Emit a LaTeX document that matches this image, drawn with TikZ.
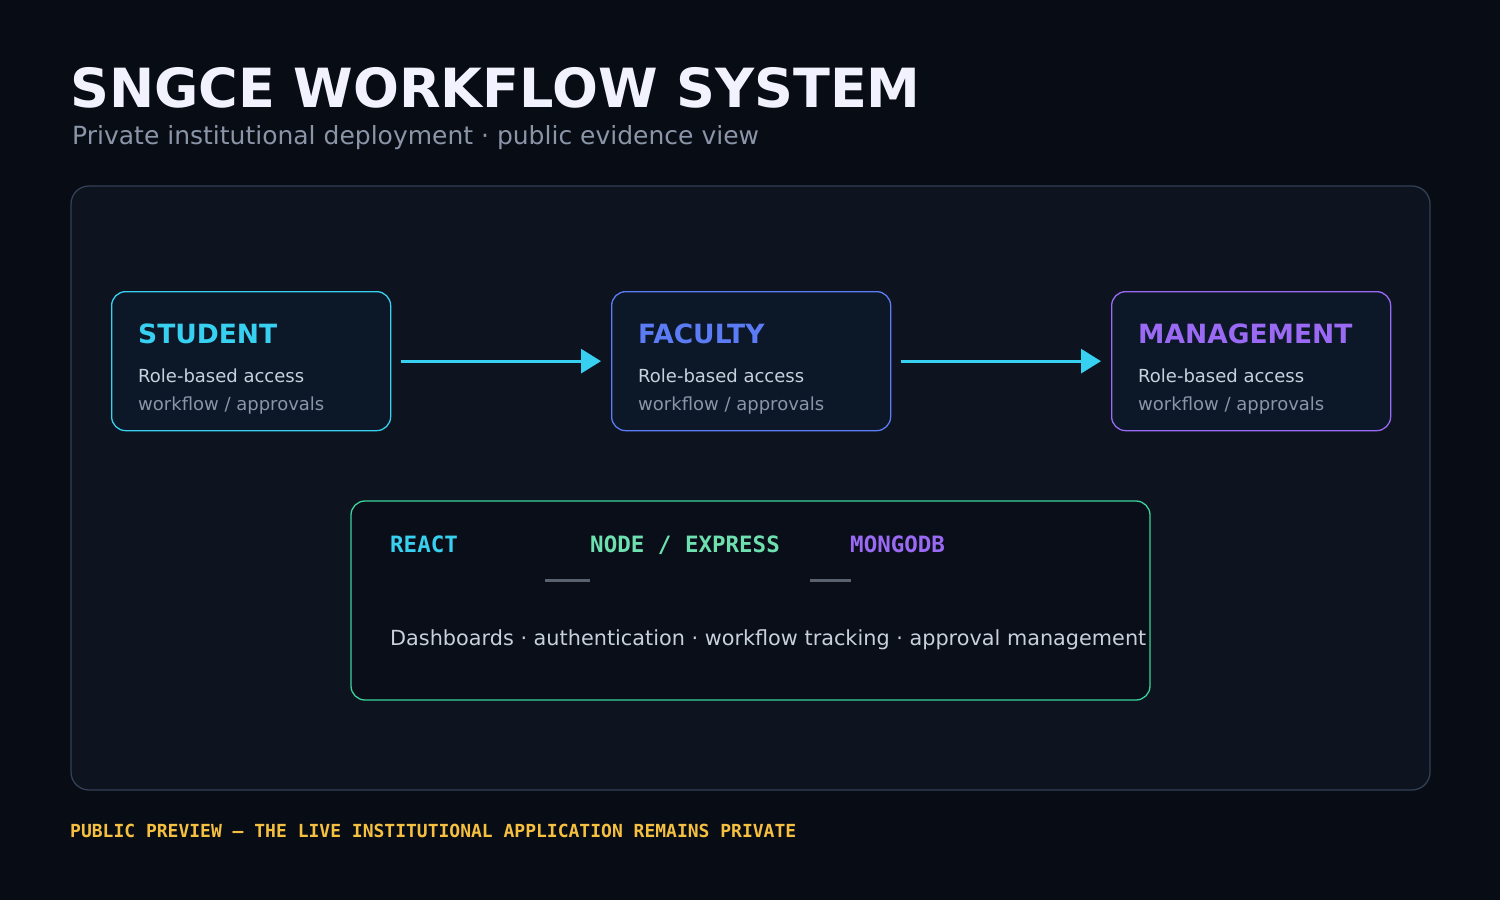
\documentclass[tikz,border=0pt]{standalone}
\usepackage{fontspec}
\setmainfont{DejaVu Sans}
\newfontfamily\monofont{DejaVu Sans Mono}
\usetikzlibrary{arrows.meta,positioning}
\definecolor{bgdark}{HTML}{080C14}
\definecolor{panelfill}{HTML}{0D1420}
\definecolor{panelline}{HTML}{334055}
\definecolor{boxfill}{HTML}{0C1828}
\definecolor{cyanc}{HTML}{38D0F0}
\definecolor{bluec}{HTML}{5B7CF5}
\definecolor{purplec}{HTML}{9A6AF5}
\definecolor{greenc}{HTML}{3AD39A}
\definecolor{mintc}{HTML}{6EE0B0}
\definecolor{greytxt}{HTML}{8B95A8}
\definecolor{lighttxt}{HTML}{C8D0DC}
\definecolor{rulegrey}{HTML}{5A6270}
\definecolor{goldc}{HTML}{F5C040}
\tikzset{
  role/.style={draw=#1, line width=1.3pt, fill=boxfill, rounded corners=14pt,
    minimum width=279pt, minimum height=139pt, anchor=north west},
  txt/.style={anchor=base west, inner sep=0pt},
  flow/.style={draw=cyanc, line width=3pt, -{Triangle[length=20pt,width=24pt]}}
}
\begin{document}
\begin{tikzpicture}[x=1pt,y=-1pt]
    \fill[bgdark] (0,0) rectangle (1500,900);
    \useasboundingbox (0,0) rectangle (1500,900);

    \node[txt, text=white!95!blue] (title) at (70,107) {\fontsize{54}{60}\selectfont\bfseries SNGCE WORKFLOW SYSTEM};
    \node[txt, text=greytxt] (sub) at (72,144) {\fontsize{25}{30}\selectfont Private institutional deployment · public evidence view};

    \draw[panelline, line width=1.3pt, fill=panelfill, rounded corners=18pt] (71,186) rectangle (1430,790);

    % role boxes
    \node[role=cyanc] (student) at (111,291) {};
    \node[role=bluec] (faculty) at (611,291) {};
    \node[role=purplec] (manage) at (1111,291) {};

    \foreach \b/\t/\c/\x in {student/STUDENT/cyanc/138, faculty/FACULTY/bluec/638, manage/MANAGEMENT/purplec/1138} {
        \node[txt, text=\c] (\b-t) at (\x,343) {\fontsize{26.5}{30}\selectfont\bfseries \t};
        \node[txt, text=lighttxt] (\b-a) at (\x,382) {\fontsize{18}{22}\selectfont Role-based access};
        \node[txt, text=greytxt] (\b-b) at (\x,410) {\fontsize{18}{22}\selectfont workflow / approvals};
    }

    \draw[flow, shorten <=10pt, shorten >=10pt] (student.east) -- (faculty.west);
    \draw[flow, shorten <=10pt, shorten >=10pt] (faculty.east) -- (manage.west);

    % stack box
    \draw[greenc, line width=1.3pt, fill=bgdark!70!panelfill, rounded corners=14pt] (351,501) rectangle (1150,700);
    \node[txt, text=cyanc] (react) at (390,552) {\monofont\fontsize{22.5}{26}\selectfont\bfseries REACT};
    \node[txt, text=mintc] (node) at (590,552) {\monofont\fontsize{22.5}{26}\selectfont\bfseries NODE / EXPRESS};
    \node[txt, text=purplec] (mongo) at (850,552) {\monofont\fontsize{22.5}{26}\selectfont\bfseries MONGODB};
    \draw[rulegrey, line width=3pt] (545,580) -- (590,580);
    \draw[rulegrey, line width=3pt] (810,580) -- (851,580);
    \node[txt, text=lighttxt] (desc) at (390,645) {\fontsize{20.8}{24}\selectfont Dashboards · authentication · workflow tracking · approval management};

    \node[txt, text=goldc] (foot) at (70,837) {\monofont\fontsize{18}{20}\selectfont\bfseries PUBLIC PREVIEW — THE LIVE INSTITUTIONAL APPLICATION REMAINS PRIVATE};
\end{tikzpicture}
\end{document}
